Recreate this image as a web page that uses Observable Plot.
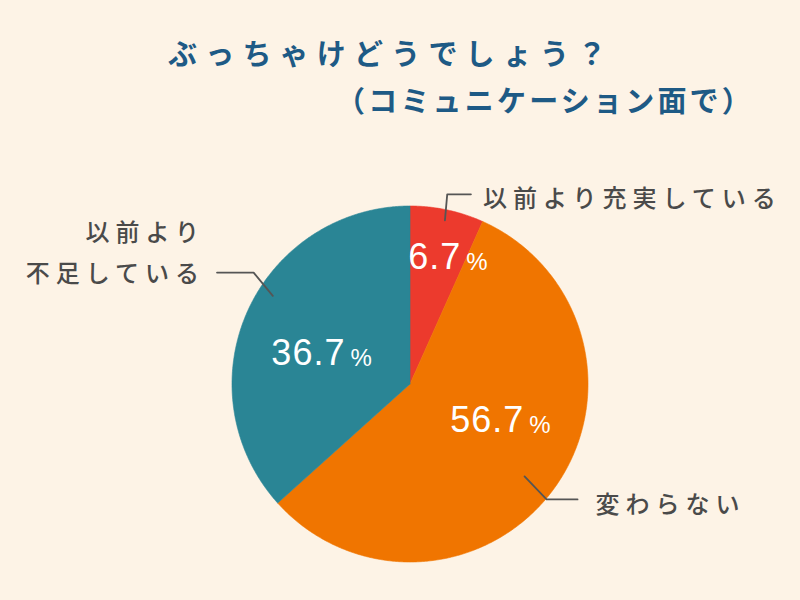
<!DOCTYPE html>
<html>
<head>
<meta charset="utf-8">
<script src="https://cdn.jsdelivr.net/npm/d3@7"></script>
<script src="https://cdn.jsdelivr.net/npm/@observablehq/plot@0.6"></script>
<style>
  html, body { margin: 0; padding: 0; background: #FDF3E6; }
  #wrap { position: relative; width: 800px; height: 600px; background: #FDF3E6; overflow: hidden; }
  .title { position: absolute; font-family: "Noto Sans CJK JP", sans-serif; font-weight: 700; color: #1E5A85; font-size: 29px; line-height: 1; white-space: nowrap; }
  #t1 { left: 168px; top: 38px; letter-spacing: 8.2px; }
  #t2 { left: 336px; top: 85px; letter-spacing: 3.2px; }
  #chart { position: absolute; left: 0; top: 0; }
</style>
</head>
<body>
<div id="wrap">
  <div class="title" id="t1">ぶっちゃけどうでしょう？</div>
  <div class="title" id="t2">（コミュニケーション面で）</div>
  <div id="chart"></div>
</div>
<script>
// ---- data ----
const categories = ["以前より充実している", "変わらない", "以前より不足している"];
const values = [6.7, 56.7, 36.7];
const labelTexts = ["以前より充実している", "変わらない", "以前より\n不足している"];

// ---- styles / layout (not data) ----
const colors = ["#EC3A2D", "#F07500", "#2A8595"];
const R = 178; // pixel radius used for pixel nudges
const pctNudge = [[32, -22], [31, -26], [36, 13]];       // px offsets from centroid(r=0.6)
const leaderAnchor = [[0.5, 0.94], [0.514, 0.827], [0.566, 0.916]]; // [angle fraction, radius]
const leaderBend = [
  [[2.3, -26], [26, -26]],
  [[22, 23], [53, 23]],
  [[-19.2, -23.3], [-55.8, -23.3]]
];
const labelOpts = [
  {textAnchor: "start", dx: 12, dy: 0},
  {textAnchor: "start", dx: 18, dy: 0},
  {textAnchor: "end", dx: -12, dy: -24}
];

const data = categories.map((c, i) => ({cat: c, value: values[i], label: labelTexts[i]}));
const arcs = d3.pie().sort(null).value(d => d.value)(data);
const polar = (a, r) => ({x: r * Math.sin(a), y: r * Math.cos(a)});

// slice polygons
const slicePts = [];
arcs.forEach(a => {
  slicePts.push({cat: a.data.cat, x: 0, y: 0});
  const n = Math.max(2, Math.ceil((a.endAngle - a.startAngle) / (Math.PI / 360)));
  for (let k = 0; k <= n; k++) {
    const t = a.startAngle + (a.endAngle - a.startAngle) * k / n;
    slicePts.push({cat: a.data.cat, ...polar(t, 1)});
  }
  slicePts.push({cat: a.data.cat, x: 0, y: 0});
});

// percentage labels
const pctPts = arcs.map((a, i) => {
  const p = polar((a.startAngle + a.endAngle) / 2, 0.6);
  return {x: p.x + pctNudge[i][0] / R, y: p.y - pctNudge[i][1] / R, value: a.data.value};
});

// leader lines
const leaderPts = [];
const labelPts = [];
arcs.forEach((a, i) => {
  const ang = a.startAngle + (a.endAngle - a.startAngle) * leaderAnchor[i][0];
  const s = polar(ang, leaderAnchor[i][1]);
  leaderPts.push({cat: a.data.cat, x: s.x, y: s.y});
  leaderBend[i].forEach(([dx, dy]) => leaderPts.push({cat: a.data.cat, x: s.x + dx / R, y: s.y - dy / R}));
  const e = leaderBend[i][leaderBend[i].length - 1];
  labelPts.push({x: s.x + e[0] / R, y: s.y - e[1] / R, label: a.data.label, i});
});

const marks = [
  Plot.line(slicePts, {x: "x", y: "y", z: "cat", fill: "cat", stroke: "cat", strokeWidth: 0.6, curve: "linear"}),
  Plot.text(pctPts, {x: "x", y: "y", text: d => d.value.toFixed(1), textAnchor: "end", dx: -3,
    fontFamily: "Liberation Sans, Arial, sans-serif", fontSize: 36, fill: "white", lineAnchor: "middle"}),
  Plot.text(pctPts, {x: "x", y: "y", text: d => "%", textAnchor: "start", dx: 2, dy: 4.3,
    fontFamily: "Liberation Sans, Arial, sans-serif", fontSize: 24, fill: "white", lineAnchor: "middle"}),
  Plot.line(leaderPts, {x: "x", y: "y", z: "cat", stroke: "#555", strokeWidth: 1.8, curve: "linear"})
];
labelOpts.forEach((o, i) => {
  marks.push(Plot.text(labelPts.filter(d => d.i === i), {x: "x", y: "y", text: "label",
    textAnchor: o.textAnchor, dx: o.dx, dy: o.dy, lineAnchor: "middle", lineHeight: 1.7,
    fontFamily: "Noto Sans CJK JP, sans-serif", fontSize: 24, fontWeight: 500, fill: "#4A4A4A"}));
});

const chart = Plot.plot({
  width: 800, height: 600,
  marginLeft: 231.5, marginRight: 212.5, marginTop: 205.5, marginBottom: 38.5,
  x: {domain: [-1, 1], axis: null},
  y: {domain: [-1, 1], axis: null},
  color: {domain: categories, range: colors},
  style: {background: "transparent", overflow: "visible"},
  marks
});
// letter spacing for text groups (style tweak)
chart.querySelectorAll("g[font-size]").forEach(g => {
  const fs = g.getAttribute("font-size");
  const ff = g.getAttribute("font-family") || "";
  if (ff.startsWith("Noto") && fs === "24") g.style.letterSpacing = "6px";
  else if (fs === "36") g.style.letterSpacing = "1px";
});
document.getElementById("chart").appendChild(chart);
</script>
</body>
</html>
